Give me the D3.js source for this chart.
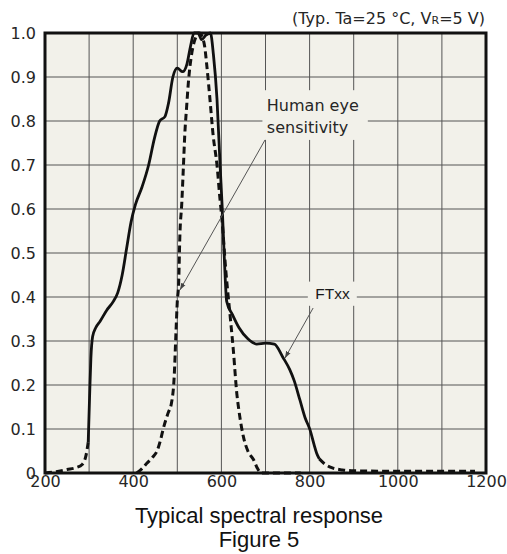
<!DOCTYPE html>
<html>
<head>
<meta charset="utf-8">
<script src="https://cdn.jsdelivr.net/npm/d3@7"></script>
<style>
  body { margin: 0; background: #fff; }
  svg { display: block; }
</style>
</head>
<body>
<svg id="chart" width="507" height="554"></svg>
<script>
// FTxx measured response (solid part), [wavelength nm, relative sensitivity]
var ftxx = [
  [298, 0.07], [301, 0.17], [304, 0.26], [308, 0.31], [315, 0.33], [325, 0.345],
  [340, 0.37], [355, 0.39], [365, 0.41], [375, 0.45], [385, 0.51], [395, 0.57],
  [405, 0.61], [420, 0.65], [435, 0.70], [448, 0.76], [460, 0.80], [472, 0.81],
  [480, 0.84], [490, 0.90], [500, 0.92], [512, 0.912], [522, 0.93], [530, 0.97],
  [538, 1.0], [547, 1.0], [555, 0.985], [565, 0.995], [575, 1.0], [582, 0.95],
  [590, 0.85], [597, 0.70], [602, 0.60], [607, 0.48], [612, 0.39], [625, 0.36],
  [640, 0.33], [660, 0.305], [680, 0.293], [700, 0.295], [720, 0.293], [740, 0.262],
  [755, 0.235], [765, 0.21], [778, 0.166], [790, 0.125], [801, 0.098], [810, 0.065],
  [816, 0.045], [822, 0.032]
];
// dashed tails of FTxx
var ftxxLow = [[200, 0], [225, 0.003], [250, 0.008], [270, 0.012], [285, 0.02], [293, 0.04], [298, 0.07]];
var ftxxHigh = [[822, 0.032], [835, 0.02], [850, 0.012], [875, 0.007], [900, 0.005], [1000, 0.004], [1100, 0.004], [1175, 0.004]];
// human eye sensitivity (dashed)
var humanEye = [
  [408, 0], [420, 0.01], [431, 0.022], [445, 0.037], [454, 0.05], [462, 0.075],
  [468, 0.1], [479, 0.136], [487, 0.16], [493, 0.22], [497, 0.32], [500, 0.39],
  [503, 0.43], [506, 0.545], [510, 0.61], [514, 0.70], [517, 0.77], [521, 0.83],
  [525, 0.886], [533, 0.955], [540, 0.985], [550, 1.0], [557, 0.99], [562, 0.97],
  [567, 0.925], [574, 0.85], [581, 0.77], [590, 0.70], [597, 0.62], [601, 0.58],
  [610, 0.46], [620, 0.355], [627, 0.28], [635, 0.18], [640, 0.14], [650, 0.082],
  [660, 0.05], [673, 0.03], [682, 0.01], [690, 0], [780, 0]
];
var xTicks = [200, 400, 600, 800, 1000, 1200];
var yTicks = [0, 0.1, 0.2, 0.3, 0.4, 0.5, 0.6, 0.7, 0.8, 0.9, 1.0];
var yTickLabels = ["0", "0.1", "0.2", "0.3", "0.4", "0.5", "0.6", "0.7", "0.8", "0.9", "1.0"];

var mLeft = 45, mRight = 486, mTop = 33, mBottom = 473;
var plotBg = "#f2f1ea";
var gridColor = "#555";
var textColor = "#262626";

var svg = d3.select("#chart");

var x = d3.scaleLinear().domain([200, 1200]).range([mLeft, mRight]);
var y = d3.scaleLinear().domain([0, 1]).range([mBottom, mTop]);

svg.append("defs").append("marker")
  .attr("id", "arrow")
  .attr("viewBox", "0 0 10 10")
  .attr("refX", 10).attr("refY", 5)
  .attr("markerWidth", 7).attr("markerHeight", 7)
  .attr("markerUnits", "userSpaceOnUse")
  .attr("orient", "auto")
  .append("path")
  .attr("d", "M0,1.5L10,5L0,8.5Z")
  .attr("fill", "#444");

// plot background
svg.append("rect")
  .attr("x", mLeft).attr("y", mTop)
  .attr("width", mRight - mLeft).attr("height", mBottom - mTop)
  .attr("fill", plotBg);

// grid
svg.append("g")
  .selectAll("line")
  .data(d3.range(300, 1200, 100))
  .enter().append("line")
  .attr("x1", d => x(d)).attr("x2", d => x(d))
  .attr("y1", mTop).attr("y2", mBottom)
  .attr("stroke", gridColor).attr("stroke-width", 1);

svg.append("g")
  .selectAll("line")
  .data(yTicks.slice(1, -1))
  .enter().append("line")
  .attr("x1", mLeft).attr("x2", mRight)
  .attr("y1", d => y(d)).attr("y2", d => y(d))
  .attr("stroke", gridColor).attr("stroke-width", 1);

// label backgrounds that cut the grid
svg.append("rect")
  .attr("x", x(693)).attr("y", y(0.87))
  .attr("width", x(932) - x(693)).attr("height", y(0.757) - y(0.87))
  .attr("fill", plotBg);
svg.append("rect")
  .attr("x", x(796)).attr("y", y(0.435))
  .attr("width", x(907) - x(796)).attr("height", y(0.38) - y(0.435))
  .attr("fill", plotBg);

// curves
var line = d3.line()
  .x(d => x(d[0]))
  .y(d => y(d[1]))
  .curve(d3.curveMonotoneX);

[ftxxLow, ftxxHigh, humanEye].forEach(function (s) {
  svg.append("path")
    .attr("d", line(s))
    .attr("fill", "none")
    .attr("stroke", "#111")
    .attr("stroke-width", 3)
    .attr("stroke-dasharray", "7,4");
});

svg.append("path")
  .attr("d", line(ftxx))
  .attr("fill", "none")
  .attr("stroke", "#111")
  .attr("stroke-width", 2.8)
  .attr("stroke-linejoin", "round");

// annotations
svg.append("line")
  .attr("x1", x(699)).attr("y1", y(0.757))
  .attr("x2", x(506)).attr("y2", y(0.416))
  .attr("stroke", "#555").attr("stroke-width", 1)
  .attr("marker-end", "url(#arrow)");

svg.append("line")
  .attr("x1", x(808)).attr("y1", y(0.375))
  .attr("x2", x(744)).attr("y2", y(0.261))
  .attr("stroke", "#555").attr("stroke-width", 1)
  .attr("marker-end", "url(#arrow)");

var eye = svg.append("text")
  .attr("font-family", "DejaVu Sans, Verdana, sans-serif")
  .attr("font-size", 16)
  .attr("fill", textColor);
eye.append("tspan").attr("x", x(703)).attr("y", y(0.822)).text("Human eye");
eye.append("tspan").attr("x", x(703)).attr("y", y(0.772)).text("sensitivity");

svg.append("text")
  .attr("x", x(813)).attr("y", y(0.395))
  .attr("font-family", "Liberation Sans, Arial, sans-serif")
  .attr("font-size", 15.5)
  .attr("fill", "#1a1a1a")
  .text("FTxx");

// frame
svg.append("rect")
  .attr("x", mLeft).attr("y", mTop)
  .attr("width", mRight - mLeft).attr("height", mBottom - mTop)
  .attr("fill", "none")
  .attr("stroke", "#111")
  .attr("stroke-width", 3);

// axes
var xAxis = svg.append("g")
  .attr("transform", "translate(0," + mBottom + ")")
  .call(d3.axisBottom(x).tickValues(xTicks).tickSize(0).tickFormat(d3.format("d")));
xAxis.select(".domain").remove();
xAxis.selectAll("text")
  .attr("y", 14).attr("dy", null)
  .attr("font-family", "DejaVu Sans, Verdana, sans-serif")
  .attr("font-size", 16)
  .attr("fill", textColor);

var yAxis = svg.append("g")
  .attr("transform", "translate(" + mLeft + ",0)")
  .call(d3.axisLeft(y).tickValues(yTicks).tickSize(0)
    .tickFormat((d, i) => yTickLabels[i]));
yAxis.select(".domain").remove();
yAxis.selectAll("text")
  .attr("x", -9)
  .attr("font-family", "DejaVu Sans, Verdana, sans-serif")
  .attr("font-size", 16)
  .attr("fill", textColor);

// conditions
var cond = svg.append("text")
  .attr("x", mRight - 1).attr("y", 24)
  .attr("text-anchor", "end")
  .attr("font-family", "DejaVu Sans, Verdana, sans-serif")
  .attr("font-size", 16)
  .attr("fill", textColor);
cond.append("tspan").text("(Typ. Ta=25 °C, V");
cond.append("tspan").attr("font-size", 11).text("R");
cond.append("tspan").text("=5 V)");

// captions
svg.append("text")
  .attr("x", 259).attr("y", 523)
  .attr("text-anchor", "middle")
  .attr("font-family", "Liberation Sans, Arial, sans-serif")
  .attr("font-size", 22)
  .attr("fill", "#111")
  .text("Typical spectral response");

svg.append("text")
  .attr("x", 259).attr("y", 547)
  .attr("text-anchor", "middle")
  .attr("font-family", "Liberation Sans, Arial, sans-serif")
  .attr("font-size", 22)
  .attr("fill", "#111")
  .text("Figure 5");
</script>
</body>
</html>
